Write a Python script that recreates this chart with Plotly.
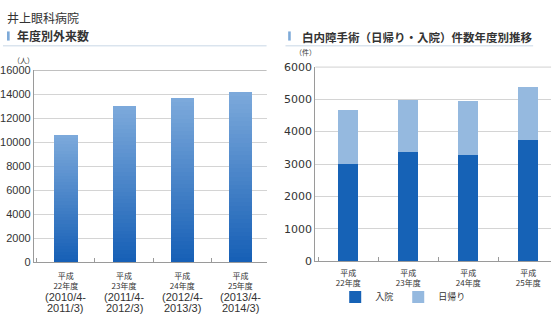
import plotly.graph_objects as go

# ---- data ----
years = ["平成<br>22年度", "平成<br>23年度", "平成<br>24年度", "平成<br>25年度"]
period_start = ["(2010/4-", "(2011/4-", "(2012/4-", "(2013/4-"]
period_end = ["2011/3)", "2012/3)", "2013/3)", "2014/3)"]
outpatients = [10600, 13000, 13650, 14200]
inpatient_surgery = [3020, 3390, 3300, 3760]
dayreturn_surgery = [1660, 1580, 1650, 1610]

FONT = "Liberation Sans, Arial, sans-serif"
CJK = "Noto Sans CJK JP, sans-serif"

TOP = (0x7c, 0xa9, 0xdb)
BOTTOM = (0x17, 0x60, 0xb6)
N_STEPS = 40


def mix(t):
    r, g, b = (round(BOTTOM[i] + (TOP[i] - BOTTOM[i]) * t) for i in range(3))
    return f"rgb({r},{g},{b})"


fig = go.Figure()

# left chart: vertical gradient bars built from stacked slices
for k in range(N_STEPS):
    fig.add_trace(go.Bar(
        x=years, y=[v / N_STEPS for v in outpatients],
        xaxis="x", yaxis="y", width=0.4,
        marker=dict(color=mix(k / (N_STEPS - 1)), line=dict(width=0)),
        showlegend=False, hoverinfo="skip",
    ))

# right chart: stacked surgery counts
fig.add_trace(go.Bar(
    x=years, y=inpatient_surgery, name="入院", xaxis="x2", yaxis="y2",
    width=0.33, marker=dict(color="#1662b6", line=dict(width=0)),
))
fig.add_trace(go.Bar(
    x=years, y=dayreturn_surgery, name="日帰り", xaxis="x2", yaxis="y2",
    width=0.33, marker=dict(color="#95b9df", line=dict(width=0)),
))

axis_common = dict(
    showline=True, linecolor="#9a9a9a", linewidth=1,
    tickfont=dict(family=CJK, size=8, color="#333"),
    ticks="inside", tickson="boundaries", ticklen=4, tickcolor="#9a9a9a",
    showgrid=False, fixedrange=True,
)
yaxis_common = dict(
    showline=True, linecolor="#9a9a9a", linewidth=1,
    gridcolor="#d4d4d4", gridwidth=1, zeroline=False,
    ticks="", fixedrange=True, tickformat="d",
)

fig.update_layout(
    width=560, height=325,
    margin=dict(l=0, r=0, t=0, b=0),
    paper_bgcolor="white", plot_bgcolor="white",
    barmode="stack", bargap=0,
    xaxis=dict(axis_common, domain=[31 / 560, 265 / 560], anchor="y",
               range=[-0.55, 3.45], ticklabelstandoff=6),
    yaxis=dict(yaxis_common, domain=[0.1794, 0.7938], anchor="x",
               range=[0, 16000], dtick=2000,
               tickfont=dict(family=FONT, size=11, color="#333")),
    xaxis2=dict(axis_common, domain=[314 / 560, 551 / 560], anchor="y2",
                range=[-0.55, 3.38], ticklabelstandoff=4),
    yaxis2=dict(yaxis_common, domain=[0.1815, 0.8052], anchor="x2",
                range=[0, 6000], dtick=1000,
                tickfont=dict(family="DejaVu Sans, sans-serif", size=11, color="#333")),
    legend=dict(orientation="h", x=334 / 560, y=1 - 303 / 325, xanchor="left", yanchor="middle",
                traceorder="normal",
                font=dict(family=CJK, size=9, color="#333"),
                itemwidth=30, bgcolor="rgba(0,0,0,0)"),
    showlegend=True,
)

# top frame lines at the axis maxima
fig.add_shape(type="line", xref="x domain", yref="y", x0=0, x1=1, y0=16000, y1=16000,
              line=dict(color="#9a9a9a", width=1))
fig.add_shape(type="line", xref="x2 domain", yref="y2", x0=0, x1=1, y0=6000, y1=6000,
              line=dict(color="#9a9a9a", width=1))

# header texts
fig.add_annotation(text="井上眼科病院", xref="paper", yref="paper", x=2 / 560, y=1 - 12 / 325,
                   xanchor="left", yanchor="middle", showarrow=False,
                   font=dict(family=CJK, size=12, color="#333"))
fig.add_annotation(text="<b>年度別外来数</b>", xref="paper", yref="paper", x=12 / 560, y=1 - 31 / 325,
                   xanchor="left", yanchor="middle", showarrow=False,
                   font=dict(family=CJK, size=12, color="#333"))
fig.add_annotation(text="<b>白内障手術（日帰り・入院）件数年度別推移</b>", xref="paper", yref="paper",
                   x=299 / 560, y=1 - 32 / 325, xanchor="left", yanchor="middle", showarrow=False,
                   font=dict(family=CJK, size=11.5, color="#333"))
# header marker blocks and underlines
for x0, x1, ux0, ux1 in [(4, 6.7, 0, 265), (286.7, 289.3, 284, 533)]:
    fig.add_shape(type="rect", xref="paper", yref="paper", x0=x0 / 560, x1=x1 / 560,
                  y0=1 - 36 / 325, y1=1 - 26.5 / 325, fillcolor="#7eaad8", line=dict(width=0))
    fig.add_shape(type="line", xref="paper", yref="paper", x0=ux0 / 560, x1=ux1 / 560,
                  y0=1 - 41.5 / 325, y1=1 - 41.5 / 325, line=dict(color="#c8d7e6", width=1))

# unit labels
fig.add_annotation(text="（人）", xref="paper", yref="paper", x=21 / 560, y=1 - 56 / 325,
                   xanchor="center", yanchor="middle", showarrow=False,
                   font=dict(family=CJK, size=7, color="#333"))
fig.add_annotation(text="（件）", xref="paper", yref="paper", x=304 / 560, y=1 - 48 / 325,
                   xanchor="center", yanchor="middle", showarrow=False,
                   font=dict(family=CJK, size=7, color="#333"))

# fiscal-year period labels under the left chart (two tight lines each)
for cat, a, b in zip(years, period_start, period_end):
    for text, yc in ((a, 303.5), (b, 314.5)):
        fig.add_annotation(text=text, xref="x", yref="paper", x=cat, y=1 - yc / 325,
                           xanchor="center", yanchor="middle", showarrow=False,
                           font=dict(family=FONT, size=11, color="#333"))

fig.write_html("out.html")
